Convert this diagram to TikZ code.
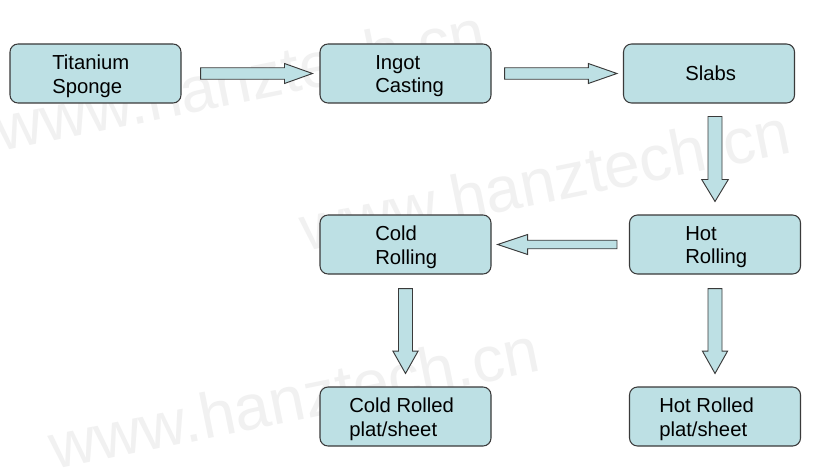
\documentclass[tikz,border=0pt]{standalone}
\usepackage{fontspec}
\setmainfont{Liberation Sans}
\usetikzlibrary{calc}
\definecolor{boxfill}{HTML}{BDE0E4}
\definecolor{boxline}{HTML}{3A3A3A}
\definecolor{wmark}{HTML}{F1F1F1}
\tikzset{
  procbox/.style={draw=boxline, fill=boxfill, line width=0.8pt, rounded corners=6pt,
    minimum width=128.25pt, minimum height=44.25pt, inner sep=0pt},
  boxtext/.style={anchor=north west, inner sep=0pt, align=left,
    font=\fontsize{15.2pt}{17.8pt}\selectfont, text=black},
  blockarr/.style={draw=boxline, fill=boxfill, line width=0.7pt, line join=miter},
  wm/.style={anchor=base west, inner sep=0pt, rotate=11.5, text=wmark,
    font=\fontsize{48pt}{48pt}\selectfont}
}
\newcommand\blockarrow[5]{%
  \coordinate (ba-h) at ($(#2)!#5!(#1)$);
  \draw[blockarr] ($(#1)!#3!90:(#2)$) -- ($(ba-h)!#3!-90:(#1)$) -- ($(ba-h)!#4!-90:(#1)$)
    -- (#2) -- ($(ba-h)!#4!90:(#1)$) -- ($(ba-h)!#3!90:(#1)$) -- ($(#1)!#3!-90:(#2)$) -- cycle;}
\begin{document}
\begin{tikzpicture}[x=0.75pt,y=-0.75pt]
\useasboundingbox (0,0) rectangle (823,474);
\clip (0,0) rectangle (823,474);
\fill[white] (0,0) rectangle (823,474);
% watermarks
\node[wm] (wm1) at (0,152) {www.hanztech.cn};
\node[wm] (wm2) at (305,252) {www.hanztech.cn};
\node[wm] (wm3) at (54,470) {www.hanztech.cn};
% boxes
\node[procbox] (ts)  at (95.5,73.5) {};
\node[procbox] (ic)  at (405.5,73.5) {};
\node[procbox] (sl)  at (709,73.5) {};
\node[procbox] (hr)  at (715,244.5) {};
\node[procbox] (cr)  at (405.5,244.5) {};
\node[procbox] (crp) at (405.5,416.5) {};
\node[procbox] (hrp) at (715,416.5) {};
% texts
\node[boxtext] (ts-t)  at ($(ts.center)+(-43.5,-18.5)$) {Titanium\\Sponge};
\node[boxtext] (ic-t)  at ($(ic.center)+(-30.5,-18.5)$) {Ingot\\Casting};
\node[boxtext] (sl-t)  at ($(sl.center)+(-24,-7.5)$) {Slabs};
\node[boxtext] (hr-t)  at ($(hr.center)+(-30,-18.5)$) {Hot\\Rolling};
\node[boxtext] (cr-t)  at ($(cr.center)+(-30.5,-18.5)$) {Cold\\Rolling};
\node[boxtext] (crp-t) at ($(crp.center)+(-56.5,-18.5)$) {Cold Rolled\\plat/sheet};
\node[boxtext] (hrp-t) at ($(hrp.center)+(-56,-18.5)$) {Hot Rolled\\plat/sheet};
% connector end points
\coordinate (a1s) at ($(ts.east)+(19,0)$);
\coordinate (a1t) at ($(ic.west)+(-7,0)$);
\coordinate (a2s) at ($(ic.east)+(13,0)$);
\coordinate (a2t) at ($(sl.west)+(-6,0)$);
\coordinate (a3s) at ($(sl.south -| hr.north)+(0,13)$);
\coordinate (a3t) at ($(hr.north)+(0,-13)$);
\coordinate (a4s) at ($(hr.west)+(-12,0)$);
\coordinate (a4t) at ($(cr.east)+(6,0)$);
\coordinate (a5s) at ($(cr.south)+(0,14)$);
\coordinate (a5t) at ($(crp.north)+(0,-13)$);
\coordinate (a6s) at ($(hr.south)+(0,14)$);
\coordinate (a6t) at ($(hrp.north)+(0,-13)$);
% block arrows
\blockarrow{a1s}{a1t}{4.3pt}{7.5pt}{21pt}
\blockarrow{a2s}{a2t}{4.3pt}{7.5pt}{21.5pt}
\blockarrow{a3s}{a3t}{5.25pt}{10pt}{16.5pt}
\blockarrow{a4s}{a4t}{3.2pt}{7.5pt}{22.5pt}
\blockarrow{a5s}{a5t}{5.25pt}{9.4pt}{16.7pt}
\blockarrow{a6s}{a6t}{5.25pt}{9.4pt}{16.7pt}
\end{tikzpicture}
\end{document}
